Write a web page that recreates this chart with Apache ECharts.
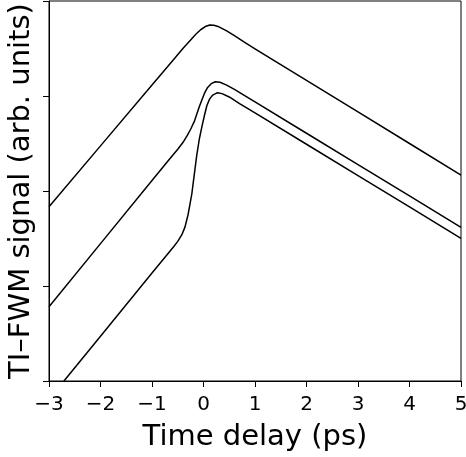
<!DOCTYPE html>
<html>
<head>
<meta charset="utf-8">
<script src="https://cdn.jsdelivr.net/npm/echarts@6/dist/echarts.min.js"></script>
<style>
html,body{margin:0;padding:0;background:#fff;}
#chart{width:466px;height:457px;}
</style>
</head>
<body>
<div id="chart"></div>
<script>
// Time delay (ps) / signal (arb. units) pairs for three curves
const curveTop = [
  [-3, 1.835], [-2, 2.475], [-1, 3.115], [-0.6, 3.37], [-0.4, 3.50], [-0.25, 3.59],
  [-0.15, 3.65], [-0.05, 3.70], [0.05, 3.735], [0.12, 3.747], [0.2, 3.745], [0.3, 3.728],
  [0.45, 3.685], [0.6, 3.635], [0.8, 3.565], [1, 3.496], [2, 3.164], [3, 2.832], [4, 2.50], [5, 2.168]
];
const curveMiddle = [
  [-3, 0.782], [-2, 1.446], [-1, 2.11], [-0.65, 2.342], [-0.5, 2.44], [-0.4, 2.51],
  [-0.32, 2.58], [-0.25, 2.65], [-0.18, 2.73], [-0.13, 2.81], [-0.08, 2.89], [-0.03, 2.96],
  [0.02, 3.03], [0.08, 3.09], [0.15, 3.13], [0.23, 3.15], [0.32, 3.145], [0.45, 3.115],
  [0.6, 3.07], [0.8, 3.005], [1, 2.938], [2, 2.608], [3, 2.278], [4, 1.948], [5, 1.618]
];
const curveBottom = [
  [-2.71, 0], [-2, 0.472], [-1, 1.137], [-0.58, 1.414], [-0.5, 1.47], [-0.42, 1.54],
  [-0.36, 1.62], [-0.3, 1.75], [-0.26, 1.87], [-0.225, 1.976], [-0.18, 2.17], [-0.13, 2.38],
  [-0.08, 2.55], [-0.03, 2.68], [0.02, 2.80], [0.066, 2.90], [0.12, 2.97], [0.18, 3.01],
  [0.27, 3.035], [0.36, 3.025], [0.5, 2.99], [0.7, 2.92], [1, 2.822], [2, 2.492],
  [3, 2.162], [4, 1.832], [5, 1.502]
];
const xTicks = [-3, -2, -1, 0, 1, 2, 3, 4, 5];
const xName = 'Time delay (ps)';
const yName = 'TI\u2013FWM signal (arb. units)';

const FONT = '"DejaVu Sans", sans-serif';
const chart = echarts.init(document.getElementById('chart'), null, {renderer: 'canvas'});
const lineSeries = (d) => ({
  type: 'line', data: d, symbol: 'none', smooth: false,
  lineStyle: {color: '#000', width: 1.5, join: 'round'}, clip: true, animation: false
});
chart.setOption({
  animation: false,
  backgroundColor: '#fff',
  grid: {left: 49, right: 5, top: 1, bottom: 76, show: true, borderColor: '#000', borderWidth: 1,
    containLabel: false, outerBoundsMode: 'none'},
  xAxis: {
    type: 'value', min: xTicks[0], max: xTicks[xTicks.length - 1], interval: 1,
    name: xName, nameLocation: 'middle', nameGap: 42,
    nameTextStyle: {fontFamily: FONT, fontSize: 29, color: '#000'},
    axisLine: {show: true, onZero: false, lineStyle: {color: '#000', width: 1}},
    axisTick: {show: true, inside: false, length: 6, lineStyle: {color: '#000'}},
    axisLabel: {fontFamily: FONT, fontSize: 20, color: '#000', margin: 14,
      formatter: v => (v < 0 ? '\u2212' + Math.abs(v) : String(v))},
    splitLine: {show: false}
  },
  yAxis: {
    type: 'value', min: 0, max: 4, interval: 1,
    name: yName, nameLocation: 'middle', nameGap: 13,
    nameTextStyle: {fontFamily: FONT, fontSize: 29, color: '#000'},
    axisLine: {show: true, onZero: false, lineStyle: {color: '#000', width: 1}},
    axisTick: {show: true, inside: false, length: 6, lineStyle: {color: '#000'}},
    axisLabel: {show: false},
    splitLine: {show: false}
  },
  series: [lineSeries(curveTop), lineSeries(curveMiddle), lineSeries(curveBottom)]
});
</script>
</body>
</html>
